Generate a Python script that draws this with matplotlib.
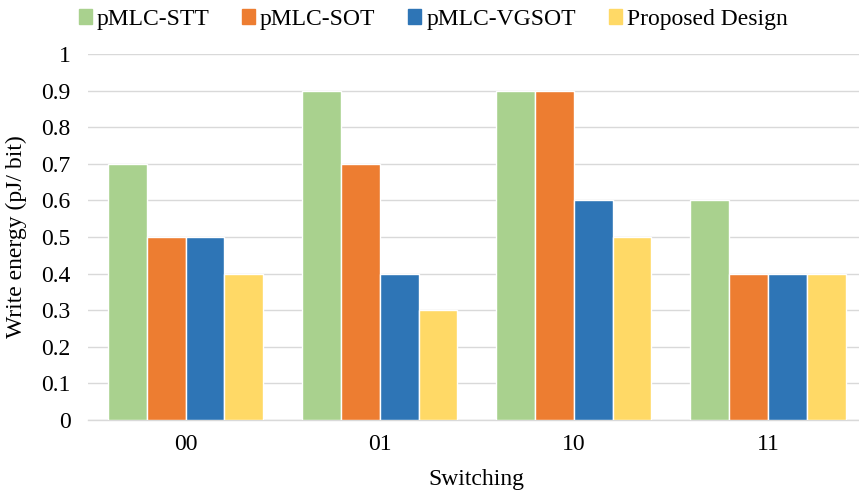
import numpy as np
import matplotlib.pyplot as plt
from matplotlib.patches import Patch

plt.rcParams['font.family'] = ['Liberation Serif', 'DejaVu Serif']

# write energy per switching transition
switching = ['00', '01', '10', '11']
stt = [0.7, 0.9, 0.9, 0.6]
sot = [0.5, 0.7, 0.9, 0.4]
vgsot = [0.5, 0.4, 0.6, 0.4]
proposed = [0.4, 0.3, 0.5, 0.4]

series = [('pMLC-STT', stt, '#A9D18E'),
          ('pMLC-SOT', sot, '#ED7D31'),
          ('pMLC-VGSOT', vgsot, '#2E75B6'),
          ('Proposed Design', proposed, '#FFD966')]

fs = 17

fig = plt.figure(figsize=(8.59, 4.95), dpi=100)
ax = fig.add_axes([0.103, 0.1515, 0.904, 0.7394])

x = np.arange(len(switching))
w = 0.2
for i, (name, vals, col) in enumerate(series):
    ax.bar(x + (i - 1.5) * w, vals, w, color=col, edgecolor='white',
           linewidth=1, label=name, zorder=3)

ax.set_xlim(-0.5, 3.5)
ax.set_ylim(0, 1)
ax.set_yticks(np.arange(0, 1.01, 0.1))
ax.set_yticklabels(['0', '0.1', '0.2', '0.3', '0.4', '0.5', '0.6', '0.7',
                    '0.8', '0.9', '1'])
ax.set_xticks(x)
ax.set_xticklabels(switching)
ax.tick_params(length=0, labelsize=fs, colors='black')
ax.tick_params(axis='x', pad=10)
ax.tick_params(axis='y', pad=13)
ax.yaxis.grid(True, color='#D9D9D9', linewidth=1, zorder=0)
for s in ['top', 'right', 'left']:
    ax.spines[s].set_visible(False)
ax.spines['bottom'].set_color('#D9D9D9')
ax.spines['bottom'].set_linewidth(1)

ax.set_xlabel('Switching', fontsize=fs, labelpad=10)
ax.set_ylabel('Write energy (pJ/ bit)', fontsize=fs, labelpad=10)

handles = [Patch(color=c, label=n) for n, _, c in series]
fig.legend(handles=handles, loc='upper center', bbox_to_anchor=(0.504, 1.025),
           ncol=4, frameon=False, fontsize=fs, handlelength=0.55,
           handleheight=0.55, handletextpad=0.2, columnspacing=1.4)

fig.savefig('out.png', dpi=100)
